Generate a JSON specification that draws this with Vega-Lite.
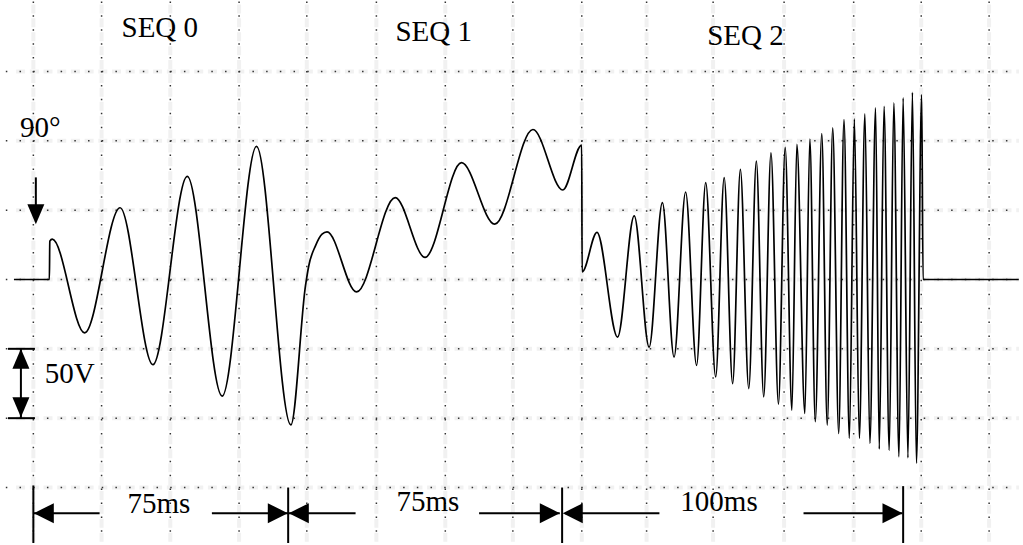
{
  "$schema": "https://vega.github.io/schema/vega-lite/v6.json",
  "width": 1023,
  "height": 545,
  "padding": 0,
  "autosize": {"type": "fit", "contains": "padding"},
  "background": "white",
  "config": {"view": {"stroke": null}},
  "datasets": {
    "wave": [
      {"t": -5.84, "v": 0}, {"t": 4.55, "v": 0}, {"t": 4.67, "v": 27.66}, {"t": 5.40, "v": 29.09},
      {"t": 14.89, "v": -38.43}, {"t": 25.26, "v": 51.72}, {"t": 34.89, "v": -61.42}, {"t": 44.96, "v": 74.35},
      {"t": 55.18, "v": -84.05}, {"t": 65.26, "v": 95.91}, {"t": 75.33, "v": -104.89},
      {"t": 79.62, "v": -4.45}, {"t": 80.58, "v": 9.91}, {"t": 82.54, "v": 24.28}, {"t": 84.47, "v": 32.69}, {"t": 85.93, "v": 34.34},
      {"t": 94.6, "v": -8.98}, {"t": 105.9, "v": 59.05}, {"t": 114.66, "v": 15.95}, {"t": 125.34, "v": 84.2},
      {"t": 135.09, "v": 39.87}, {"t": 146.28, "v": 108.12}, {"t": 155.04, "v": 64.51}, {"t": 160.58, "v": 96.84},
      {"t": 160.7, "v": 5.39}, {"t": 165.05, "v": 33.91}, {"t": 171.09, "v": -41.52}, {"t": 175.97, "v": 45.83},
      {"t": 180.35, "v": -48.71}, {"t": 184.23, "v": 55.46}, {"t": 187.65, "v": -55.89}, {"t": 191.04, "v": 63.07},
      {"t": 194.25, "v": -61.93}, {"t": 196.93, "v": 69.83}, {"t": 199.85, "v": -70.26}, {"t": 202.34, "v": 73.42},
      {"t": 204.82, "v": -75.07}, {"t": 207.09, "v": 79.38}, {"t": 209.55, "v": -78.66}, {"t": 211.77, "v": 85.34},
      {"t": 213.93, "v": -84.63}, {"t": 216.06, "v": 91.38}, {"t": 218.25, "v": -89.8}, {"t": 220.23, "v": 95.19},
      {"t": 222.19, "v": -94.25}, {"t": 223.65, "v": 97.34}, {"t": 225.99, "v": -96.62}, {"t": 227.45, "v": 101.29},
      {"t": 229.05, "v": -102.59}, {"t": 230.95, "v": 105.24}, {"t": 232.55, "v": -105.03}, {"t": 234.16, "v": 109.34},
      {"t": 235.91, "v": -110.99}, {"t": 237.46, "v": 115.3}, {"t": 239.04, "v": -114.58}, {"t": 240.5, "v": 115.8},
      {"t": 241.96, "v": -114.58}, {"t": 243.59, "v": 119.4}, {"t": 245.05, "v": -118.18}, {"t": 246.72, "v": 123.71},
      {"t": 247.8, "v": -122.27}, {"t": 249.2, "v": 124.86}, {"t": 250.72, "v": -123.2}, {"t": 252.06, "v": 127.3},
      {"t": 253.58, "v": -127.87}, {"t": 254.8, "v": 130.89}, {"t": 256.2, "v": -128.59}, {"t": 257.52, "v": 134.91},
      {"t": 258.69, "v": -132.54}, {"t": 260.23, "v": 133.26}, {"t": 260.64, "v": 0}, {"t": 288.7, "v": 0}
    ],
    "vgrid": [
      {"t": -0.15}, {"t": 19.85}, {"t": 40}, {"t": 60.15}, {"t": 80}, {"t": 100.4}, {"t": 120.6}, {"t": 140.4},
      {"t": 160.6}, {"t": 179.6}, {"t": 199.1}, {"t": 219.9}, {"t": 240.3}, {"t": 260.1}, {"t": 280}
    ],
    "hgrid": [{"v": 150}, {"v": 100}, {"v": 50}, {"v": 0}, {"v": -50}, {"v": -100}, {"v": -150}],
    "labels": [
      {"label": "SEQ 0", "t": 25.69, "v": 174.9},
      {"label": "SEQ 1", "t": 105.99, "v": 172.06},
      {"label": "SEQ 2", "t": 197.37, "v": 169.2},
      {"label": "90°", "t": -4.09, "v": 102.4},
      {"label": "50V", "t": 3.21, "v": -74.35},
      {"label": "75ms", "t": 27.45, "v": -168.4},
      {"label": "75ms", "t": 106.28, "v": -167.0},
      {"label": "100ms", "t": 189.49, "v": -167.0}
    ],
    "hlines": [
      {"t": -7.59, "t2": 0.29, "v": -50},
      {"t": -7.59, "t2": 0.29, "v": -100},
      {"t": -0.15, "t2": 19.27, "v": -168.5},
      {"t": 52.18, "t2": 74.54, "v": -168.5},
      {"t": 74.54, "t2": 94.3, "v": -168.5},
      {"t": 130.5, "t2": 154.16, "v": -168.5},
      {"t": 155.7, "t2": 183.36, "v": -168.5},
      {"t": 225.6, "t2": 254.6, "v": -168.5}
    ],
    "vlines": [
      {"t": 0.58, "v": 73.6, "v2": 53.5},
      {"t": -3.8, "v": -50, "v2": -100},
      {"t": -0.15, "v": -148.5, "v2": -190},
      {"t": 74.54, "v": -150, "v2": -190},
      {"t": 154.84, "v": -150, "v2": -190},
      {"t": 254.8, "v": -149, "v2": -190}
    ],
    "heads": [
      {"dir": "down", "t": 0.58, "v": 47.05},
      {"dir": "up", "t": -3.8, "v": -57.2},
      {"dir": "down", "t": -3.8, "v": -92.2},
      {"dir": "left", "t": 2.92, "v": -168.5},
      {"dir": "right", "t": 71.5, "v": -168.5},
      {"dir": "left", "t": 77.66, "v": -168.5},
      {"dir": "right", "t": 151.24, "v": -168.5},
      {"dir": "left", "t": 157.96, "v": -168.5},
      {"dir": "right", "t": 251.68, "v": -168.5}
    ]
  },
  "layer": [
    {
      "data": {"name": "hgrid"},
      "mark": {"type": "rule", "color": "#f1f1f1", "strokeWidth": 4, "strokeDash": [9, 4.7]},
      "encoding": {
        "x": {"datum": -5.2, "type": "quantitative", "scale": {"domain": [-9.927, 288.759], "nice": false, "zero": false}, "axis": null},
        "x2": {"datum": 288.759},
        "y": {"field": "v", "type": "quantitative", "scale": {"domain": [-190, 201.5], "nice": false, "zero": false}, "axis": null}
      }
    },
    {
      "data": {"name": "vgrid"},
      "mark": {"type": "rule", "color": "#f1f1f1", "strokeWidth": 4, "strokeDash": [9, 4.9]},
      "encoding": {
        "x": {"field": "t", "type": "quantitative", "scale": {"domain": [-9.927, 288.759], "nice": false, "zero": false}, "axis": null},
        "y": {"datum": 198.3, "type": "quantitative", "scale": {"domain": [-190, 201.5], "nice": false, "zero": false}, "axis": null},
        "y2": {"datum": -190}
      }
    },
    {
      "data": {"name": "hgrid"},
      "mark": {"type": "rule", "color": "#333333", "strokeWidth": 1.5, "strokeDash": [1.5, 12.2]},
      "encoding": {
        "x": {"datum": -8.22, "type": "quantitative", "scale": {"domain": [-9.927, 288.759], "nice": false, "zero": false}, "axis": null},
        "x2": {"datum": 288.759},
        "y": {"field": "v", "type": "quantitative", "scale": {"domain": [-190, 201.5], "nice": false, "zero": false}, "axis": null}
      }
    },
    {
      "data": {"name": "vgrid"},
      "mark": {"type": "rule", "color": "#333333", "strokeWidth": 1.5, "strokeDash": [1.5, 12.42]},
      "encoding": {
        "x": {"field": "t", "type": "quantitative", "scale": {"domain": [-9.927, 288.759], "nice": false, "zero": false}, "axis": null},
        "y": {"datum": 200.5, "type": "quantitative", "scale": {"domain": [-190, 201.5], "nice": false, "zero": false}, "axis": null},
        "y2": {"datum": -190}
      }
    },
    {
      "data": {"name": "wave"},
      "mark": {"type": "line", "color": "black", "strokeWidth": 1.7, "interpolate": "monotone"},
      "encoding": {
        "x": {"field": "t", "type": "quantitative", "scale": {"domain": [-9.927, 288.759], "nice": false, "zero": false}, "axis": null},
        "y": {"field": "v", "type": "quantitative", "scale": {"domain": [-190, 201.5], "nice": false, "zero": false}, "axis": null}
      }
    },
    {
      "data": {"name": "hlines"},
      "mark": {"type": "rule", "color": "black", "strokeWidth": 2},
      "encoding": {
        "x": {"field": "t", "type": "quantitative", "scale": {"domain": [-9.927, 288.759], "nice": false, "zero": false}, "axis": null},
        "x2": {"field": "t2"},
        "y": {"field": "v", "type": "quantitative", "scale": {"domain": [-190, 201.5], "nice": false, "zero": false}, "axis": null}
      }
    },
    {
      "data": {"name": "vlines"},
      "mark": {"type": "rule", "color": "black", "strokeWidth": 2},
      "encoding": {
        "x": {"field": "t", "type": "quantitative", "scale": {"domain": [-9.927, 288.759], "nice": false, "zero": false}, "axis": null},
        "y": {"field": "v", "type": "quantitative", "scale": {"domain": [-190, 201.5], "nice": false, "zero": false}, "axis": null},
        "y2": {"field": "v2"}
      }
    },
    {
      "data": {"name": "heads"},
      "transform": [{"filter": "datum.dir === 'left'"}],
      "mark": {"type": "point", "filled": true, "color": "black", "opacity": 1, "size": 400, "strokeWidth": 0, "shape": "M1,-1L-1,0L1,1Z"},
      "encoding": {
        "x": {"field": "t", "type": "quantitative", "scale": {"domain": [-9.927, 288.759], "nice": false, "zero": false}, "axis": null},
        "y": {"field": "v", "type": "quantitative", "scale": {"domain": [-190, 201.5], "nice": false, "zero": false}, "axis": null}
      }
    },
    {
      "data": {"name": "heads"},
      "transform": [{"filter": "datum.dir === 'right'"}],
      "mark": {"type": "point", "filled": true, "color": "black", "opacity": 1, "size": 400, "strokeWidth": 0, "shape": "M-1,-1L1,0L-1,1Z"},
      "encoding": {
        "x": {"field": "t", "type": "quantitative", "scale": {"domain": [-9.927, 288.759], "nice": false, "zero": false}, "axis": null},
        "y": {"field": "v", "type": "quantitative", "scale": {"domain": [-190, 201.5], "nice": false, "zero": false}, "axis": null}
      }
    },
    {
      "data": {"name": "heads"},
      "transform": [{"filter": "datum.dir === 'up'"}],
      "mark": {"type": "point", "filled": true, "color": "black", "opacity": 1, "size": 400, "strokeWidth": 0, "shape": "M-0.85,1L0,-1L0.85,1Z"},
      "encoding": {
        "x": {"field": "t", "type": "quantitative", "scale": {"domain": [-9.927, 288.759], "nice": false, "zero": false}, "axis": null},
        "y": {"field": "v", "type": "quantitative", "scale": {"domain": [-190, 201.5], "nice": false, "zero": false}, "axis": null}
      }
    },
    {
      "data": {"name": "heads"},
      "transform": [{"filter": "datum.dir === 'down'"}],
      "mark": {"type": "point", "filled": true, "color": "black", "opacity": 1, "size": 400, "strokeWidth": 0, "shape": "M-0.85,-1L0,1L0.85,-1Z"},
      "encoding": {
        "x": {"field": "t", "type": "quantitative", "scale": {"domain": [-9.927, 288.759], "nice": false, "zero": false}, "axis": null},
        "y": {"field": "v", "type": "quantitative", "scale": {"domain": [-190, 201.5], "nice": false, "zero": false}, "axis": null}
      }
    },
    {
      "data": {"name": "labels"},
      "mark": {"type": "text", "font": "Liberation Serif", "fontSize": 29, "color": "black", "align": "left", "baseline": "alphabetic"},
      "encoding": {
        "x": {"field": "t", "type": "quantitative", "scale": {"domain": [-9.927, 288.759], "nice": false, "zero": false}, "axis": null},
        "y": {"field": "v", "type": "quantitative", "scale": {"domain": [-190, 201.5], "nice": false, "zero": false}, "axis": null},
        "text": {"field": "label"}
      }
    }
  ]
}
